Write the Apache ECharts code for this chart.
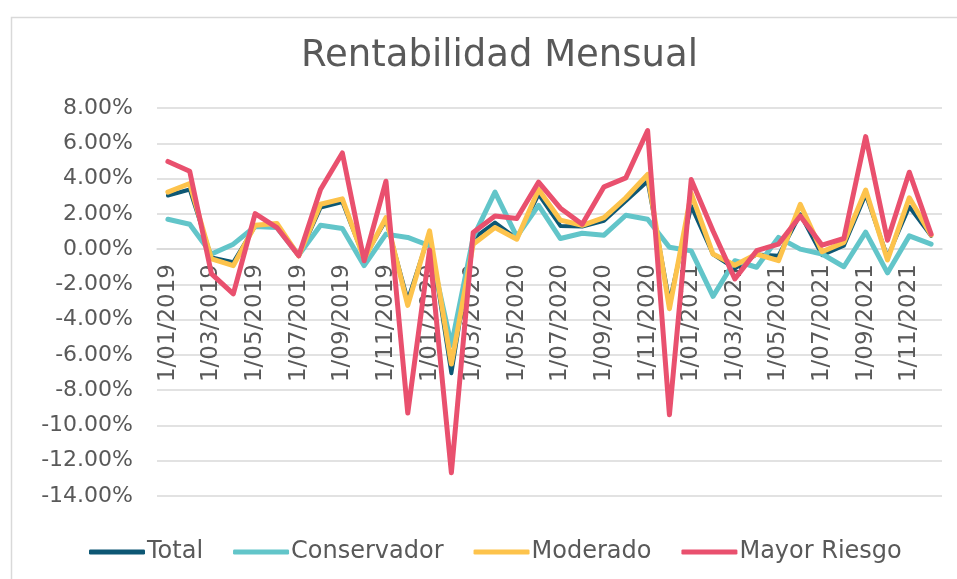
<!DOCTYPE html>
<html>
<head>
<meta charset="utf-8">
<script src="https://cdn.jsdelivr.net/npm/echarts@6/dist/echarts.min.js"></script>
<style>
html,body{margin:0;padding:0;background:#fff;}
#c{width:957px;height:579px;}
</style>
</head>
<body>
<div id="c"></div>
<script>
const categories = [
  '1/01/2019','1/02/2019','1/03/2019','1/04/2019','1/05/2019','1/06/2019',
  '1/07/2019','1/08/2019','1/09/2019','1/10/2019','1/11/2019','1/12/2019',
  '1/01/2020','1/02/2020','1/03/2020','1/04/2020','1/05/2020','1/06/2020',
  '1/07/2020','1/08/2020','1/09/2020','1/10/2020','1/11/2020','1/12/2020',
  '1/01/2021','1/02/2021','1/03/2021','1/04/2021','1/05/2021','1/06/2021',
  '1/07/2021','1/08/2021','1/09/2021','1/10/2021','1/11/2021','1/12/2021'
];
const total = [
  3.04, 3.38, -0.47, -0.75, 1.30, 1.30, -0.40, 2.35, 2.67, -0.50, 1.65, -2.90,
  0.90, -7.04, 0.60, 1.50, 0.60, 3.10, 1.31, 1.28, 1.60, 2.72, 3.85, -3.00,
  2.44, -0.30, -1.10, -0.30, -0.38, 1.97, -0.34, 0.19, 3.10, -0.45, 2.40, 0.75
];
const conservador = [
  1.69, 1.41, -0.28, 0.28, 1.28, 1.22, -0.34, 1.35, 1.17, -0.94, 0.85, 0.66,
  0.19, -5.45, 0.66, 3.23, 0.71, 2.48, 0.60, 0.90, 0.79, 1.92, 1.69, 0.10,
  -0.10, -2.68, -0.66, -1.03, 0.66, 0.00, -0.28, -1.00, 0.96, -1.35, 0.75, 0.28
];
const moderado = [
  3.23, 3.72, -0.56, -0.94, 1.35, 1.45, -0.38, 2.54, 2.85, -0.56, 1.78, -3.19,
  1.03, -6.52, 0.28, 1.22, 0.56, 3.38, 1.64, 1.35, 1.78, 2.91, 4.23, -3.38,
  3.15, -0.28, -0.92, -0.28, -0.66, 2.54, -0.15, 0.38, 3.35, -0.62, 2.91, 0.80
];
const mayorRiesgo = [
  4.97, 4.41, -1.41, -2.54, 2.01, 1.22, -0.38, 3.38, 5.45, -0.66, 3.85, -9.30,
  -0.05, -12.68, 0.94, 1.88, 1.73, 3.80, 2.32, 1.41, 3.53, 4.04, 6.72, -9.39,
  3.94, 1.03, -1.69, -0.09, 0.28, 1.88, 0.22, 0.60, 6.38, 0.50, 4.36, 0.85
];
const yMin = -14, yMax = 8, yStep = 2;
const seriesNames = ['Total', 'Conservador', 'Moderado', 'Mayor Riesgo'];
const seriesColors = ['#0d5774', '#62c5c9', '#fdc34c', '#e9506e'];
const seriesWidths = [4, 5, 5, 5];
const seriesData = [total, conservador, moderado, mayorRiesgo];

const gridTop = 108, gridBottom = 83, H = 579;
const plotH = H - gridTop - gridBottom;
const zeroOffset = -plotH * (0 - yMin) / (yMax - yMin);

const chart = echarts.init(document.getElementById('c'), null, {renderer: 'canvas'});
const option = {
  backgroundColor: '#ffffff',
  animation: false,
  graphic: [{
    type: 'rect',
    silent: true,
    z: -10,
    shape: {x: 11.5, y: 17.5, width: 1000, height: 1000},
    style: {fill: 'none', stroke: '#d9d9d9', lineWidth: 1.5}
  }],
  title: {
    text: 'Rentabilidad Mensual',
    left: 296,
    top: 33,
    textStyle: {fontFamily: 'DejaVu Sans', fontSize: 37, fontWeight: 'normal', color: '#595959'}
  },
  legend: {
    left: 84,
    top: 535,
    itemWidth: 56,
    itemHeight: 5,
    itemGap: 30,
    icon: 'roundRect',
    data: seriesNames,
    textStyle: {fontFamily: 'DejaVu Sans', fontSize: 24, color: '#595959', padding: [0, 0, 0, -3]}
  },
  grid: {left: 157, right: 15, top: gridTop, bottom: gridBottom, outerBoundsMode: 'none', containLabel: false},
  xAxis: {
    type: 'category',
    data: categories,
    boundaryGap: true,
    offset: zeroOffset,
    zlevel: 0,
    z: 0,
    axisLine: {onZero: false, lineStyle: {color: '#d9d9d9', width: 1.5}},
    axisTick: {show: false},
    axisLabel: {
      interval: 1,
      rotate: 90,
      margin: 15,
      fontFamily: 'DejaVu Sans',
      fontSize: 23,
      color: '#595959'
    },
    splitLine: {show: false}
  },
  yAxis: {
    type: 'value',
    min: yMin,
    max: yMax,
    interval: yStep,
    zlevel: 0,
    axisLine: {show: false},
    axisTick: {show: false},
    axisLabel: {
      margin: 24,
      fontFamily: 'DejaVu Sans',
      fontSize: 22,
      color: '#595959',
      formatter: function (v) { return v.toFixed(2) + '%'; }
    },
    splitLine: {lineStyle: {color: '#d9d9d9', width: 1.5}}
  },
  series: seriesNames.map(function (name, i) {
    return {
      name: name,
      type: 'line',
      data: seriesData[i],
      showSymbol: false,
      symbol: 'none',
      color: seriesColors[i],
      lineStyle: {color: seriesColors[i], width: seriesWidths[i], cap: 'round', join: 'round'},
      zlevel: 1,
      z: 2 + i
    };
  })
};
chart.setOption(option);
</script>
</body>
</html>
